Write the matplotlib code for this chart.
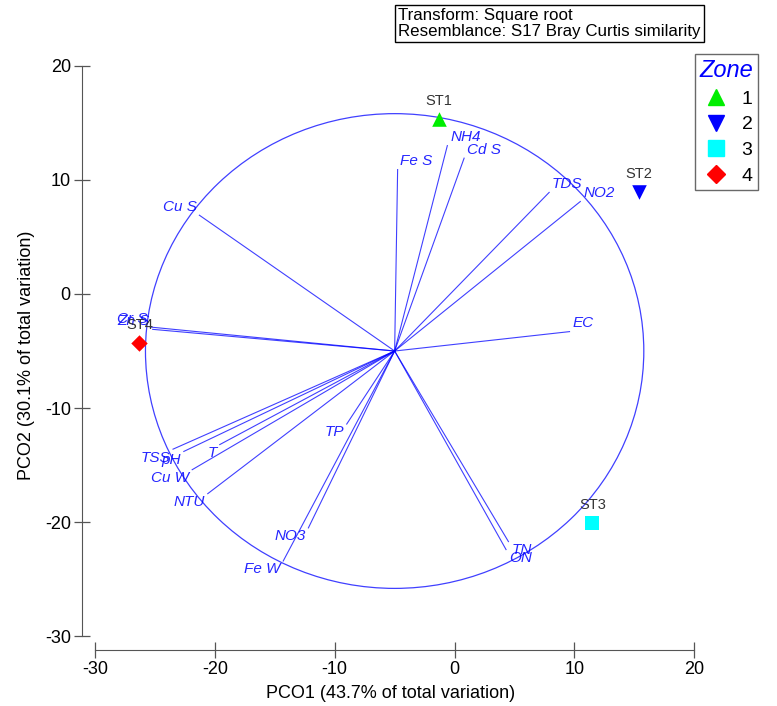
import matplotlib.pyplot as plt
import numpy as np
from matplotlib.patches import Circle

plt.rcParams['font.family'] = ['Liberation Sans', 'DejaVu Sans']
plt.rcParams['axes.unicode_minus'] = False

# stations (PCO scores)
stations = ['ST1', 'ST2', 'ST3', 'ST4']
zones = ['1', '2', '3', '4']
pco1 = [-1.3, 15.4, 11.5, -26.3]
pco2 = [15.3, 8.9, -20.1, -4.3]
markers = ['^', 'v', 's', 'D']
colors = ['#00ee00', '#0000ff', '#00ffff', '#ff0000']

# vector overlay (end points), all start from the circle centre
vec_names = ['Fe S', 'NH4', 'Cd S', 'TDS', 'NO2', 'EC', 'Cu S', 'Cr S', 'Zn S',
             'TSS', 'pH', 'T', 'Cu W', 'NTU', 'TP', 'NO3', 'Fe W', 'TN', 'ON']
vec_x = [-4.75, -0.6, 0.8, 7.9, 10.5, 9.6, -21.3, -25.4, -25.2,
         -23.5, -22.6, -19.6, -21.9, -20.6, -9.0, -12.2, -14.3, 4.5, 4.3]
vec_y = [10.9, 13.0, 11.9, 8.9, 8.1, -3.3, 6.9, -2.9, -3.1,
         -13.6, -13.8, -13.2, -15.4, -17.5, -11.4, -20.5, -23.4, -21.7, -22.4]
centre = (-5.0, -5.0)
radius = 20.8

fig = plt.figure(figsize=(7.77, 7.06), dpi=100)
ax = fig.add_axes([0.1055, 0.0793, 0.794, 0.8357])
ax.set_xlim(-31.1, 20.4)
ax.set_ylim(-31.2, 20.5)

# circle and vectors
ax.add_patch(Circle(centre, radius, fill=False, ec='#0000ff', lw=0.9, alpha=0.75))
for name, x, y in zip(vec_names, vec_x, vec_y):
    ax.plot([centre[0], x], [centre[1], y], color='#0000ff', lw=0.8, alpha=0.75)
    dx, dy = x - centre[0], y - centre[1]
    ha = 'left' if dx > 0 else 'right'
    va = 'bottom' if dy > 0 else 'top'
    ax.annotate(name, (x, y), xytext=(2 if dx > 0 else -2, 1 if dy > 0 else -1),
                textcoords='offset points', ha=ha, va=va, fontsize=11,
                style='italic', color='#0000ff', alpha=0.85)

# stations
for st, x, y, m, c in zip(stations, pco1, pco2, markers, colors):
    ax.scatter(x, y, marker=m, s=110 if m != 'D' else 70, color=c, zorder=3, linewidths=0)
    ax.annotate(st, (x, y), xytext=(0, 8), textcoords='offset points',
                ha='center', va='bottom', fontsize=10.5, color='#333333')

# PRIMER-style axes
for s in ['top', 'right']:
    ax.spines[s].set_visible(False)
ax.spines['left'].set_bounds(-30, 20)
ax.spines['bottom'].set_bounds(-30, 20)
for s in ['left', 'bottom']:
    ax.spines[s].set_color('#555555')
ax.set_xticks([-30, -20, -10, 0, 10, 20])
ax.set_yticks([-30, -20, -10, 0, 10, 20])
ax.tick_params(direction='inout', length=12, width=0.9, color='#555555',
               labelsize=13, pad=2)
ax.set_xlabel('PCO1 (43.7% of total variation)', fontsize=13, labelpad=5)
ax.set_ylabel('PCO2 (30.1% of total variation)', fontsize=13, labelpad=7)

# legend
handles = [plt.Line2D([], [], marker=m, color=c, ls='none', markersize=11 if m != 'D' else 9)
           for m, c in zip(markers, colors)]
leg = fig.legend(handles, zones, loc='upper left', bbox_to_anchor=(695 / 777, 1 - 54 / 706),
                 title='Zone', fontsize=14, frameon=True, fancybox=False,
                 edgecolor='#444444', handletextpad=0.5, handlelength=1.6,
                 labelspacing=0.42, borderpad=0.25, borderaxespad=0)
leg.get_title().set_color('#0000ff')
leg.get_title().set_style('italic')
leg.get_title().set_fontsize(17)
leg.get_frame().set_linewidth(1)

fig.text(398 / 777, 1 - 8 / 706, 'Transform: Square root\nResemblance: S17 Bray Curtis similarity',
         ha='left', va='top', fontsize=12.2, linespacing=1.05,
         bbox=dict(boxstyle='square,pad=0.2', fc='white', ec='black', lw=1))

plt.savefig('out.png', dpi=100)
